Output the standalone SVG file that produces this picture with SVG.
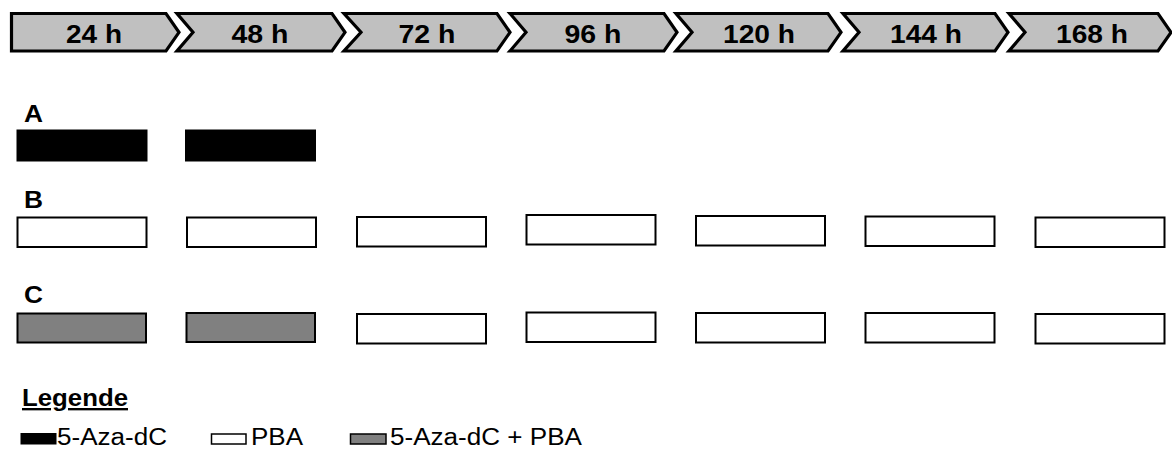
<svg xmlns="http://www.w3.org/2000/svg" width="1172" height="466" viewBox="0 0 1172 466">
  <style>
    .step { fill: #c0c0c0; stroke: #000; stroke-width: 3.2; stroke-linejoin: miter; }
    .steplabel { font-family: "Liberation Sans", Arial, sans-serif; font-weight: bold; font-size: 26px; fill: #000; text-anchor: middle; }
    .rowlabel { font-family: "Liberation Sans", Arial, sans-serif; font-weight: bold; font-size: 24px; fill: #000; }
    .aza { fill: #000; stroke: #000; stroke-width: 1; }
    .pba { fill: #fff; stroke: #000; stroke-width: 2; }
    .combo { fill: #808080; stroke: #000; stroke-width: 2; }
    .legtext { font-family: "Liberation Sans", Arial, sans-serif; font-size: 23.5px; fill: #000; }
    .legtitle { font-family: "Liberation Sans", Arial, sans-serif; font-weight: bold; font-size: 23.5px; fill: #000; text-decoration: underline; }
  </style>

  <rect width="1172" height="466" fill="#fff"/>

  <!-- Timeline chevrons -->
  <g id="timeline">
    <g id="t24">
      <polygon class="step" points="11.5,13.5 166,13.5 179,32.3 166,51 11.5,51"/>
      <text class="steplabel" x="94" y="42.5" textLength="56" lengthAdjust="spacingAndGlyphs">24 h</text>
    </g>
    <g id="t48">
      <polygon class="step" points="177,13.5 332,13.5 345,32.3 332,51 177,51 193,32.3"/>
      <text class="steplabel" x="260" y="42.5" textLength="57" lengthAdjust="spacingAndGlyphs">48 h</text>
    </g>
    <g id="t72">
      <polygon class="step" points="344,13.5 497,13.5 510,32.3 497,51 344,51 361,32.3"/>
      <text class="steplabel" x="427" y="42.5" textLength="57" lengthAdjust="spacingAndGlyphs">72 h</text>
    </g>
    <g id="t96">
      <polygon class="step" points="510,13.5 664,13.5 677,32.3 664,51 510,51 526,32.3"/>
      <text class="steplabel" x="593" y="42.5" textLength="57" lengthAdjust="spacingAndGlyphs">96 h</text>
    </g>
    <g id="t120">
      <polygon class="step" points="676,13.5 828,13.5 841,32.3 828,51 676,51 692,32.3"/>
      <text class="steplabel" x="759" y="42.5" textLength="72" lengthAdjust="spacingAndGlyphs">120 h</text>
    </g>
    <g id="t144">
      <polygon class="step" points="843,13.5 995,13.5 1008,32.3 995,51 843,51 859,32.3"/>
      <text class="steplabel" x="926" y="42.5" textLength="72" lengthAdjust="spacingAndGlyphs">144 h</text>
    </g>
    <g id="t168">
      <polygon class="step" points="1009,13.5 1158,13.5 1171,32.3 1158,51 1009,51 1025,32.3"/>
      <text class="steplabel" x="1092" y="42.5" textLength="72" lengthAdjust="spacingAndGlyphs">168 h</text>
    </g>
  </g>

  <!-- Regimen A: 5-Aza-dC for the first two days -->
  <g id="rowA">
    <text class="rowlabel" x="24" y="122" textLength="19" lengthAdjust="spacingAndGlyphs">A</text>
    <rect class="aza" x="17" y="130" width="130" height="31"/>
    <rect class="aza" x="185.5" y="130" width="130" height="31"/>
  </g>

  <!-- Regimen B: PBA throughout -->
  <g id="rowB">
    <text class="rowlabel" x="24" y="208" textLength="19" lengthAdjust="spacingAndGlyphs">B</text>
    <rect class="pba" x="17.5" y="217.5" width="129" height="29.5"/>
    <rect class="pba" x="187" y="217.5" width="129" height="29.5"/>
    <rect class="pba" x="357" y="217" width="129" height="29.5"/>
    <rect class="pba" x="526.5" y="215" width="129" height="29.5"/>
    <rect class="pba" x="696" y="216" width="129" height="29.5"/>
    <rect class="pba" x="865.5" y="216.5" width="129" height="29.5"/>
    <rect class="pba" x="1035.5" y="217.5" width="129" height="29.5"/>
  </g>

  <!-- Regimen C: combination, then PBA alone -->
  <g id="rowC">
    <text class="rowlabel" x="24" y="303" textLength="19" lengthAdjust="spacingAndGlyphs">C</text>
    <rect class="combo" x="17.5" y="313.5" width="128.5" height="29"/>
    <rect class="combo" x="186.5" y="313" width="128.5" height="29"/>
    <rect class="pba" x="357" y="314" width="129" height="29.5"/>
    <rect class="pba" x="526.5" y="312.5" width="129" height="29.5"/>
    <rect class="pba" x="696" y="313" width="129" height="29.5"/>
    <rect class="pba" x="865.5" y="313" width="129" height="29.5"/>
    <rect class="pba" x="1035.5" y="314" width="129" height="29.5"/>
  </g>

  <!-- Legend -->
  <g id="legend">
    <text class="legtitle" x="22" y="406" textLength="106" lengthAdjust="spacingAndGlyphs">Legende</text>
    <rect class="aza" x="21" y="433.5" width="35" height="10.5"/>
    <text class="legtext" x="57" y="445" textLength="110" lengthAdjust="spacingAndGlyphs">5-Aza-dC</text>
    <rect fill="#fff" stroke="#000" stroke-width="1.5" x="211.5" y="434" width="34.5" height="10"/>
    <text class="legtext" x="251" y="445" textLength="52" lengthAdjust="spacingAndGlyphs">PBA</text>
    <rect fill="#808080" stroke="#000" stroke-width="1.5" x="350.5" y="434" width="35.5" height="10"/>
    <text class="legtext" x="390" y="445" textLength="192" lengthAdjust="spacingAndGlyphs">5-Aza-dC + PBA</text>
  </g>
</svg>
